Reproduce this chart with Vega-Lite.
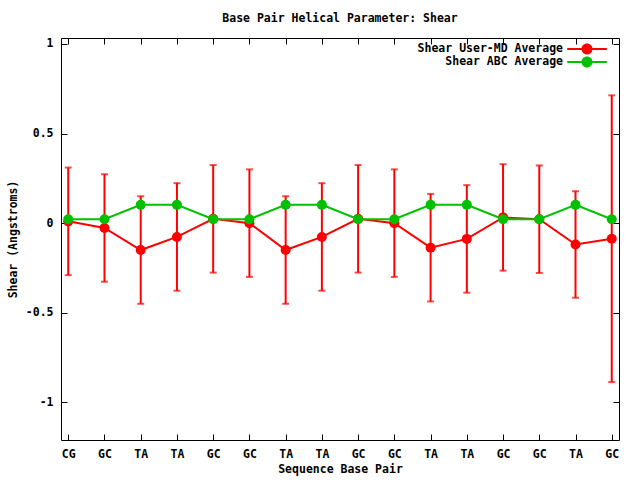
{
  "$schema": "https://vega.github.io/schema/vega-lite/v6.json",
  "width": 558,
  "height": 402,
  "autosize": {"type": "none"},
  "padding": {"left": 61, "top": 38, "right": 21, "bottom": 40},
  "background": "white",
  "title": {"text": "Base Pair Helical Parameter: Shear", "font": "DejaVu Sans Mono", "fontSize": 11.5, "fontWeight": "bold", "color": "black", "anchor": "middle", "offset": 13},
  "config": {
    "view": {"stroke": "black", "strokeWidth": 1},
    "axis": {"grid": false, "domain": false, "labelFont": "DejaVu Sans Mono", "labelFontSize": 11.5, "labelFontWeight": "bold", "labelColor": "black", "titleFont": "DejaVu Sans Mono", "titleFontSize": 11.5, "titleFontWeight": "bold", "titleColor": "black", "tickColor": "black", "tickSize": -6, "tickWidth": 1}
  },
  "data": {"values": [
    {"key": "01:CG", "series": "Shear User-MD Average", "value": 0.01, "err": 0.30},
    {"key": "01:CG", "series": "Shear ABC Average", "value": 0.022},
    {"key": "02:GC", "series": "Shear User-MD Average", "value": -0.027, "err": 0.30},
    {"key": "02:GC", "series": "Shear ABC Average", "value": 0.022},
    {"key": "03:TA", "series": "Shear User-MD Average", "value": -0.15, "err": 0.30},
    {"key": "03:TA", "series": "Shear ABC Average", "value": 0.102},
    {"key": "04:TA", "series": "Shear User-MD Average", "value": -0.077, "err": 0.30},
    {"key": "04:TA", "series": "Shear ABC Average", "value": 0.102},
    {"key": "05:GC", "series": "Shear User-MD Average", "value": 0.024, "err": 0.30},
    {"key": "05:GC", "series": "Shear ABC Average", "value": 0.022},
    {"key": "06:GC", "series": "Shear User-MD Average", "value": 0.0, "err": 0.30},
    {"key": "06:GC", "series": "Shear ABC Average", "value": 0.022},
    {"key": "07:TA", "series": "Shear User-MD Average", "value": -0.15, "err": 0.30},
    {"key": "07:TA", "series": "Shear ABC Average", "value": 0.102},
    {"key": "08:TA", "series": "Shear User-MD Average", "value": -0.077, "err": 0.30},
    {"key": "08:TA", "series": "Shear ABC Average", "value": 0.102},
    {"key": "09:GC", "series": "Shear User-MD Average", "value": 0.024, "err": 0.30},
    {"key": "09:GC", "series": "Shear ABC Average", "value": 0.022},
    {"key": "10:GC", "series": "Shear User-MD Average", "value": 0.0, "err": 0.30},
    {"key": "10:GC", "series": "Shear ABC Average", "value": 0.022},
    {"key": "11:TA", "series": "Shear User-MD Average", "value": -0.137, "err": 0.30},
    {"key": "11:TA", "series": "Shear ABC Average", "value": 0.102},
    {"key": "12:TA", "series": "Shear User-MD Average", "value": -0.088, "err": 0.30},
    {"key": "12:TA", "series": "Shear ABC Average", "value": 0.102},
    {"key": "13:GC", "series": "Shear User-MD Average", "value": 0.032, "err": 0.297},
    {"key": "13:GC", "series": "Shear ABC Average", "value": 0.022},
    {"key": "14:GC", "series": "Shear User-MD Average", "value": 0.022, "err": 0.30},
    {"key": "14:GC", "series": "Shear ABC Average", "value": 0.022},
    {"key": "15:TA", "series": "Shear User-MD Average", "value": -0.119, "err": 0.297},
    {"key": "15:TA", "series": "Shear ABC Average", "value": 0.102},
    {"key": "16:GC", "series": "Shear User-MD Average", "value": -0.087, "err": 0.80},
    {"key": "16:GC", "series": "Shear ABC Average", "value": 0.022}
  ]},
  "layer": [
    {
      "transform": [{"filter": "datum.series === 'Shear User-MD Average'"}],
      "mark": {"type": "errorbar", "color": "#ff0000", "thickness": 2, "ticks": {"size": 7, "thickness": 2}},
      "encoding": {
        "x": {"field": "key", "type": "ordinal", "scale": {"type": "point", "padding": 0.2}, "axis": {"orient": "bottom", "title": "Sequence Base Pair", "labelExpr": "split(datum.label, ':')[1]", "labelAngle": 0, "labelPadding": 14, "titlePadding": 4}},
        "y": {"field": "value", "type": "quantitative", "scale": {"domain": [-1.21, 1.033], "nice": false, "zero": false}, "axis": {"orient": "left", "title": "Shear (Angstroms)", "values": [-1, -0.5, 0, 0.5, 1], "labelExpr": "'' + datum.value", "labelPadding": 14, "titlePadding": 7}},
        "yError": {"field": "err"}
      }
    },
    {
      "transform": [{"filter": "datum.series === 'Shear User-MD Average'"}],
      "mark": {"type": "line", "color": "#ff0000", "strokeWidth": 2},
      "encoding": {
        "x": {"field": "key", "type": "ordinal", "axis": {"orient": "top", "labels": false, "title": null}},
        "y": {"field": "value", "type": "quantitative", "axis": {"orient": "right", "labels": false, "title": null, "values": [-1, -0.5, 0, 0.5, 1]}}
      }
    },
    {
      "transform": [{"filter": "datum.series === 'Shear User-MD Average'"}],
      "mark": {"type": "point", "filled": true, "opacity": 1, "size": 100, "shape": "circle"},
      "encoding": {
        "x": {"field": "key", "type": "ordinal", "axis": null},
        "y": {"field": "value", "type": "quantitative", "axis": null},
        "color": {"field": "series", "type": "nominal", "scale": {"domain": ["Shear User-MD Average", "Shear ABC Average"], "range": ["#ff0000", "#00c000"]},
          "legend": {"orient": "none", "legendX": 520, "legendY": 5, "title": null, "symbolType": "M-3.3,-0.17H3.3V0.17H-3.3ZM0.92,0A0.92,0.92 0 1,1 -0.92,0A0.92,0.92 0 1,1 0.92,0Z", "symbolSize": 144, "symbolStrokeWidth": 0, "labelAlign": "right", "labelOffset": -30, "labelFont": "DejaVu Sans Mono", "labelFontSize": 11.5, "labelFontWeight": "bold", "labelColor": "black", "rowPadding": 1, "padding": 0}
        }
      }
    },
    {
      "transform": [{"filter": "datum.series === 'Shear ABC Average'"}],
      "mark": {"type": "line", "color": "#00c000", "strokeWidth": 2},
      "encoding": {
        "x": {"field": "key", "type": "ordinal", "axis": null},
        "y": {"field": "value", "type": "quantitative", "axis": null}
      }
    },
    {
      "transform": [{"filter": "datum.series === 'Shear ABC Average'"}],
      "mark": {"type": "point", "filled": true, "opacity": 1, "size": 100, "shape": "circle"},
      "encoding": {
        "x": {"field": "key", "type": "ordinal", "axis": null},
        "y": {"field": "value", "type": "quantitative", "axis": null},
        "color": {"field": "series", "type": "nominal",
          "legend": {"orient": "none", "legendX": 520, "legendY": 5, "title": null, "symbolType": "M-3.3,-0.17H3.3V0.17H-3.3ZM0.92,0A0.92,0.92 0 1,1 -0.92,0A0.92,0.92 0 1,1 0.92,0Z", "symbolSize": 144, "symbolStrokeWidth": 0, "labelAlign": "right", "labelOffset": -30, "labelFont": "DejaVu Sans Mono", "labelFontSize": 11.5, "labelFontWeight": "bold", "labelColor": "black", "rowPadding": 1, "padding": 0}
        }
      }
    }
  ]
}
